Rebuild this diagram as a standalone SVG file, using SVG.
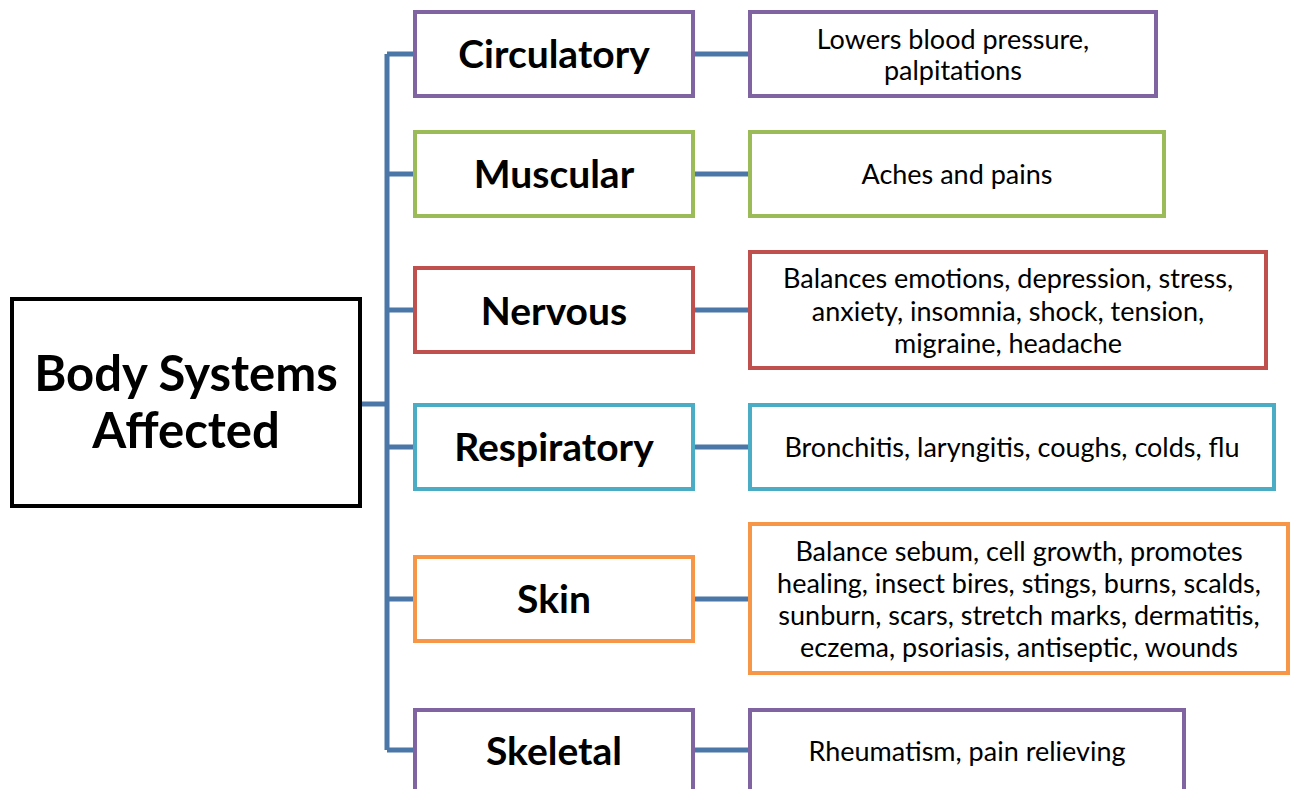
<svg xmlns="http://www.w3.org/2000/svg" width="1298" height="789" viewBox="0 0 1298 789">
<style>
.box{fill:#fff;stroke-width:4}
.main{fill:#fff;stroke:#000;stroke-width:4}
.p{stroke:#8064A2}.g{stroke:#9BBB59}.r{stroke:#C0504D}.c{stroke:#4BACC6}.o{stroke:#F79646}
.cat{font-family:Lato,"Liberation Sans",sans-serif;font-weight:bold;font-size:39px;fill:#000;text-anchor:middle;dominant-baseline:central}
.det{font-family:Lato,"Liberation Sans",sans-serif;font-size:27px;fill:#000;text-anchor:middle;dominant-baseline:central}
.ttl{font-family:Lato,"Liberation Sans",sans-serif;font-weight:bold;font-size:49px;fill:#000;text-anchor:middle;dominant-baseline:central}
.conn{fill:none;stroke:#4A76A8;stroke-width:5}
</style>
<rect width="1298" height="789" fill="#fff"/>
<g id="connectors" class="conn">
<path d="M360 404 H387"/>
<path d="M387 54 V750"/>
<path d="M387 54 H415 M387 174 H415 M387 310 H415 M387 447 H415 M387 599 H415 M387 750 H415"/>
<path d="M693 54 H748 M693 174 H748 M693 310 H748 M693 447 H748 M693 599 H748 M693 750 H748"/>
</g>
<g id="main">
<rect class="main" x="12" y="299" width="348" height="207"/>
<text class="ttl" x="186" y="372">Body Systems</text>
<text class="ttl" x="186" y="429">Affected</text>
</g>
<g id="circulatory">
<rect class="box p" x="415" y="12" width="278" height="84"/>
<text class="cat" x="554" y="53">Circulatory</text>
</g>
<g id="circulatory-detail">
<rect class="box p" x="750" y="12" width="406" height="84"/>
<text class="det" x="953" y="38">Lowers blood pressure,</text>
<text class="det" x="953" y="69">palpitations</text>
</g>
<g id="muscular">
<rect class="box g" x="415" y="132" width="278" height="84"/>
<text class="cat" x="554" y="173">Muscular</text>
</g>
<g id="muscular-detail">
<rect class="box g" x="750" y="132" width="414" height="84"/>
<text class="det" x="957" y="173">Aches and pains</text>
</g>
<g id="nervous">
<rect class="box r" x="415" y="268" width="278" height="84"/>
<text class="cat" x="554" y="310">Nervous</text>
</g>
<g id="nervous-detail">
<rect class="box r" x="750" y="252" width="516" height="116"/>
<text class="det" x="1008" y="277">Balances emotions, depression, stress,</text>
<text class="det" x="1008" y="310">anxiety, insomnia, shock, tension,</text>
<text class="det" x="1008" y="342">migraine, headache</text>
</g>
<g id="respiratory">
<rect class="box c" x="415" y="405" width="278" height="84"/>
<text class="cat" x="554" y="446">Respiratory</text>
</g>
<g id="respiratory-detail">
<rect class="box c" x="750" y="405" width="524" height="84"/>
<text class="det" x="1012" y="446">Bronchitis, laryngitis, coughs, colds, flu</text>
</g>
<g id="skin">
<rect class="box o" x="415" y="557" width="278" height="84"/>
<text class="cat" x="554" y="598">Skin</text>
</g>
<g id="skin-detail">
<rect class="box o" x="750" y="524" width="538" height="149"/>
<text class="det" x="1019" y="550">Balance sebum, cell growth, promotes</text>
<text class="det" x="1019" y="582">healing, insect bires, stings, burns, scalds,</text>
<text class="det" x="1019" y="614">sunburn, scars, stretch marks, dermatitis,</text>
<text class="det" x="1019" y="646">eczema, psoriasis, antiseptic, wounds</text>
</g>
<g id="skeletal">
<rect class="box p" x="415" y="710" width="278" height="84"/>
<text class="cat" x="554" y="750">Skeletal</text>
</g>
<g id="skeletal-detail">
<rect class="box p" x="750" y="710" width="434" height="84"/>
<text class="det" x="967" y="750">Rheumatism, pain relieving</text>
</g>
</svg>
